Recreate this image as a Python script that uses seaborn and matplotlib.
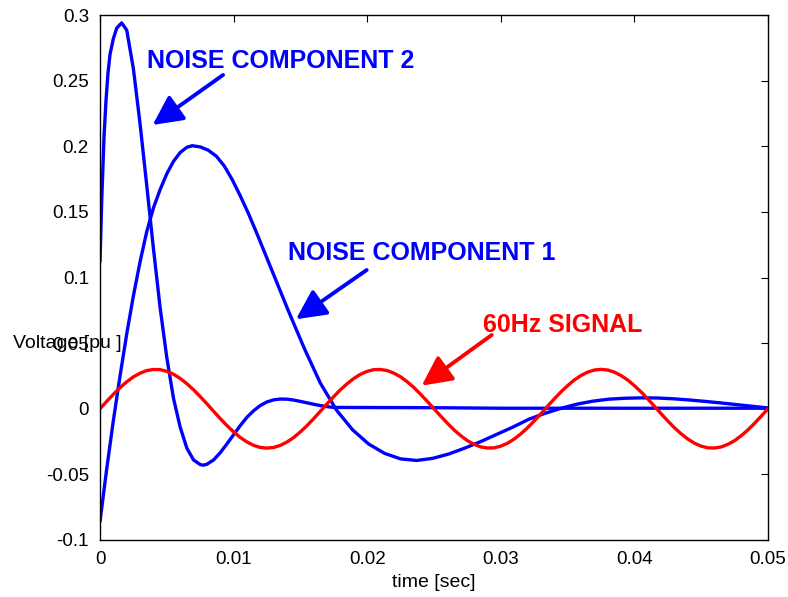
import numpy as np
import pandas as pd
import matplotlib
matplotlib.use("Agg")
import matplotlib.pyplot as plt
from matplotlib.ticker import FuncFormatter
import seaborn as sns

# values
noise1_t = [0.0, 0.0005, 0.001, 0.0015, 0.002, 0.0025, 0.003, 0.0035, 0.004, 0.0045,
            0.005, 0.0055, 0.006, 0.0065, 0.0069, 0.0075, 0.0081, 0.0087, 0.0093, 0.0099,
            0.0105, 0.0111, 0.0117, 0.0129, 0.0141, 0.0153, 0.0165, 0.0177, 0.0189, 0.0201,
            0.0213, 0.0225, 0.0237, 0.0249, 0.0261, 0.0273, 0.0285, 0.0297, 0.0309, 0.0321,
            0.0333, 0.0345, 0.0357, 0.0369, 0.0381, 0.0393, 0.0405, 0.0417, 0.0429, 0.0441,
            0.0453, 0.0465, 0.0477, 0.0489, 0.05]
noise1_v = [-0.086, -0.046, -0.009, 0.025, 0.057, 0.086, 0.112, 0.135, 0.153, 0.167,
            0.179, 0.1885, 0.1952, 0.1992, 0.2004, 0.1995, 0.197, 0.1925, 0.185, 0.1745,
            0.1622, 0.149, 0.1346, 0.1046, 0.0746, 0.0458, 0.0194, -0.001, -0.016, -0.0268,
            -0.034, -0.0382, -0.0394, -0.0378, -0.0345, -0.030, -0.025, -0.0195, -0.014, -0.008,
            -0.0035, 0.0003, 0.0035, 0.0058, 0.0073, 0.0080, 0.0083, 0.0082, 0.0076, 0.0067,
            0.0056, 0.0044, 0.0031, 0.0018, 0.0006]

noise2_t = [0.0, 0.00013, 0.0003, 0.00045, 0.0006, 0.00075, 0.001, 0.00125, 0.00162, 0.002,
            0.0025, 0.003, 0.0035, 0.004, 0.0045, 0.005, 0.0055, 0.006, 0.0065, 0.007,
            0.0075, 0.00773, 0.008, 0.0085, 0.009, 0.0095, 0.01, 0.0105, 0.011, 0.0115,
            0.012, 0.0125, 0.013, 0.0135, 0.014, 0.0145, 0.015, 0.0155, 0.016, 0.0165,
            0.017, 0.0175, 0.025, 0.03, 0.05]
noise2_v = [0.112, 0.159, 0.207, 0.235, 0.256, 0.270, 0.282, 0.290, 0.294, 0.2885,
            0.259, 0.217, 0.170, 0.122, 0.077, 0.039, 0.008, -0.014, -0.030, -0.039,
            -0.0425, -0.043, -0.0423, -0.039, -0.0335, -0.0268, -0.0198, -0.0128, -0.0065, -0.0015,
            0.0025, 0.0052, 0.0068, 0.0074, 0.0073, 0.0066, 0.0056, 0.0045, 0.0034, 0.0024,
            0.0016, 0.001, 0.0008, 0.0004, 0.0004]

signal_t = np.linspace(0, 0.05, 101)
signal_v = [0, 0.0056, 0.0110, 0.0161, 0.0205, 0.0243, 0.0271, 0.0291, 0.0299, 0.0298,
            0.0285, 0.0263, 0.0231, 0.0191, 0.0145, 0.0093, 0.0038, -0.0019, -0.0075, -0.0128,
            -0.0176, -0.0219, -0.0253, -0.0279, -0.0295, -0.0300, -0.0295, -0.0279, -0.0253, -0.0219,
            -0.0176, -0.0128, -0.0075, -0.0019, 0.0038, 0.0093, 0.0145, 0.0191, 0.0231, 0.0263,
            0.0285, 0.0298, 0.0299, 0.0291, 0.0271, 0.0243, 0.0205, 0.0161, 0.0110, 0.0056,
            0, -0.0056, -0.0110, -0.0161, -0.0205, -0.0243, -0.0271, -0.0291, -0.0299, -0.0298,
            -0.0285, -0.0263, -0.0231, -0.0191, -0.0145, -0.0093, -0.0038, 0.0019, 0.0075, 0.0128,
            0.0176, 0.0219, 0.0253, 0.0279, 0.0295, 0.0300, 0.0295, 0.0279, 0.0253, 0.0219,
            0.0176, 0.0128, 0.0075, 0.0019, -0.0038, -0.0093, -0.0145, -0.0191, -0.0231, -0.0263,
            -0.0285, -0.0298, -0.0299, -0.0291, -0.0271, -0.0243, -0.0205, -0.0161, -0.0110, -0.0056,
            0]

x_ticks = [0, 0.01, 0.02, 0.03, 0.04, 0.05]
y_ticks = [-0.1, -0.05, 0, 0.05, 0.1, 0.15, 0.2, 0.25, 0.3]

sns.set_style("white")
plt.rcParams['font.family'] = ['Liberation Sans', 'DejaVu Sans']
plt.rcParams['text.color'] = 'black'
plt.rcParams['axes.labelcolor'] = 'black'
plt.rcParams['xtick.color'] = 'black'
plt.rcParams['ytick.color'] = 'black'


def main():
    fig = plt.figure(figsize=(7.88, 5.97), dpi=100)
    ax = fig.add_axes([100 / 788, 57 / 597, 668 / 788, 525 / 597])

    blue = "#0000ff"
    red = "#ff0000"
    lw = 2.4
    sns.lineplot(x=noise1_t, y=noise1_v, color=blue, lw=lw, ax=ax, sort=False)
    sns.lineplot(x=noise2_t, y=noise2_v, color=blue, lw=lw, ax=ax, sort=False)
    sns.lineplot(x=signal_t, y=signal_v, color=red, lw=lw, ax=ax, sort=False)

    ax.set_xlim(0, 0.05)
    ax.set_ylim(-0.1, 0.3)
    ax.set_xticks(x_ticks)
    ax.set_yticks(y_ticks)
    fmt = FuncFormatter(lambda v, p: "%g" % round(v, 4))
    ax.xaxis.set_major_formatter(fmt)
    ax.yaxis.set_major_formatter(fmt)
    ax.tick_params(direction="in", length=5, width=0.8, top=True, right=True,
                   labelsize=13.5, colors="black", pad=8)
    for s in ax.spines.values():
        s.set_color("black")
        s.set_linewidth(1.0)

    ax.set_xlabel("time [sec]", fontsize=14, labelpad=4)
    ax.set_ylabel("Voltage [pu ]", fontsize=14, rotation=0, ha="left", va="center")
    ax.yaxis.set_label_coords(-87 / 668, 197 / 525)

    # annotations
    arrow = dict(arrowstyle="-|>,head_length=0.9,head_width=0.45", lw=2.8, mutation_scale=20,
                 shrinkA=0, shrinkB=0)
    ax.text(0.0035, 0.2594, "NOISE COMPONENT 2", color=blue, fontsize=18, fontweight="bold",
            ha="left", va="baseline")
    ax.annotate("", xy=(0.00394, 0.2162), xytext=(0.00921, 0.2543),
                arrowprops=dict(arrow, color=blue))
    ax.text(0.0141, 0.1133, "NOISE COMPONENT 1", color=blue, fontsize=18, fontweight="bold",
            ha="left", va="baseline")
    ax.annotate("", xy=(0.01467, 0.0682), xytext=(0.01996, 0.1057),
                arrowprops=dict(arrow, color=blue))
    ax.text(0.02869, 0.0587, "60Hz SIGNAL", color=red, fontsize=18, fontweight="bold",
            ha="left", va="baseline")
    ax.annotate("", xy=(0.02408, 0.0176), xytext=(0.02932, 0.0562),
                arrowprops=dict(arrow, color=red))

    fig.savefig("out.png", dpi=100)
    plt.close(fig)


if __name__ == "__main__":
    main()
